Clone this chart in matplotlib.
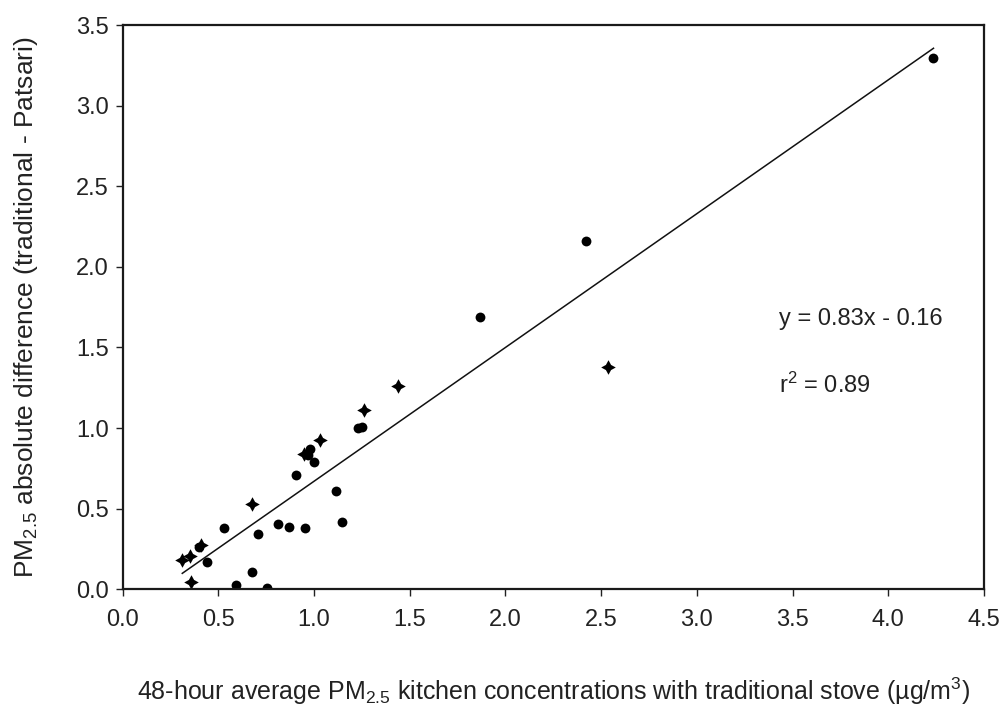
import numpy as np
import matplotlib
matplotlib.use("Agg")
from matplotlib import pyplot as plt

# Data
dot_x = [0.40, 0.44, 0.532, 0.593, 0.675, 0.708, 0.753, 0.811, 0.870, 0.906,
         0.954, 0.980, 0.971, 1.002, 1.114, 1.147, 1.232, 1.253, 1.868, 2.421, 4.236]
dot_y = [0.262, 0.171, 0.378, 0.027, 0.109, 0.341, 0.006, 0.403, 0.385, 0.709,
         0.380, 0.870, 0.833, 0.792, 0.612, 0.416, 1.002, 1.009, 1.687, 2.163, 3.294]
star_x = [0.312, 0.353, 0.356, 0.41, 0.678, 0.950, 1.033, 1.262, 1.441, 2.538]
star_y = [0.182, 0.206, 0.047, 0.272, 0.527, 0.839, 0.926, 1.112, 1.261, 1.381]

slope = 0.83
intercept = -0.16
r2 = 0.89

x_ticks = [0.0, 0.5, 1.0, 1.5, 2.0, 2.5, 3.0, 3.5, 4.0, 4.5]
y_ticks = [0.0, 0.5, 1.0, 1.5, 2.0, 2.5, 3.0, 3.5]

fam = "Liberation Sans"
plt.rcParams["font.family"] = [fam, "DejaVu Sans"]
plt.rcParams["mathtext.fontset"] = "custom"
plt.rcParams["mathtext.rm"] = fam
plt.rcParams["mathtext.it"] = fam

fig = plt.figure(figsize=(10.07, 7.15), dpi=100)
ax = fig.add_axes([0.1217, 0.1758, 0.8555, 0.7892])

all_x = np.array(dot_x + star_x)
lx = np.array([all_x.min(), all_x.max()])
ax.plot(lx, slope * lx + intercept, color="#111111", lw=1.1, zorder=1)

ax.scatter(dot_x, dot_y, s=50, color="black", marker="o", zorder=2, linewidths=0)
ax.scatter(star_x, star_y, s=110, color="black", marker=(4, 1, 0), zorder=2, linewidths=0)

ax.set_xlim(0, 4.5)
ax.set_ylim(0, 3.5)
ax.set_xticks(x_ticks)
ax.set_yticks(y_ticks)
ax.set_xticklabels([f"{v:.1f}" for v in x_ticks])
ax.set_yticklabels([f"{v:.1f}" for v in y_ticks])
ax.tick_params(direction="out", length=5, width=1.0, labelsize=17, colors="#222222")
ax.tick_params(axis="x", pad=9)
ax.tick_params(axis="y", pad=5)
for sp in ax.spines.values():
    sp.set_linewidth(1.6)
    sp.set_color("#1a1a1a")

ax.set_xlabel(r"48-hour average PM$_{2.5}$ kitchen concentrations with traditional stove (µg/m$^{3}$)",
              fontsize=18, labelpad=32, color="#222222")
ax.set_ylabel(r"PM$_{2.5}$ absolute difference (traditional - Patsari)",
              fontsize=19, labelpad=26, color="#222222")

ax.text(3.43, 1.64, f"y = {slope:.2f}x - {abs(intercept):.2f}", fontsize=17, color="#222222")
ax.text(3.43, 1.22, f"r$^{{2}}$ = {r2:.2f}", fontsize=17, color="#222222")

fig.savefig("out.png", dpi=100)
